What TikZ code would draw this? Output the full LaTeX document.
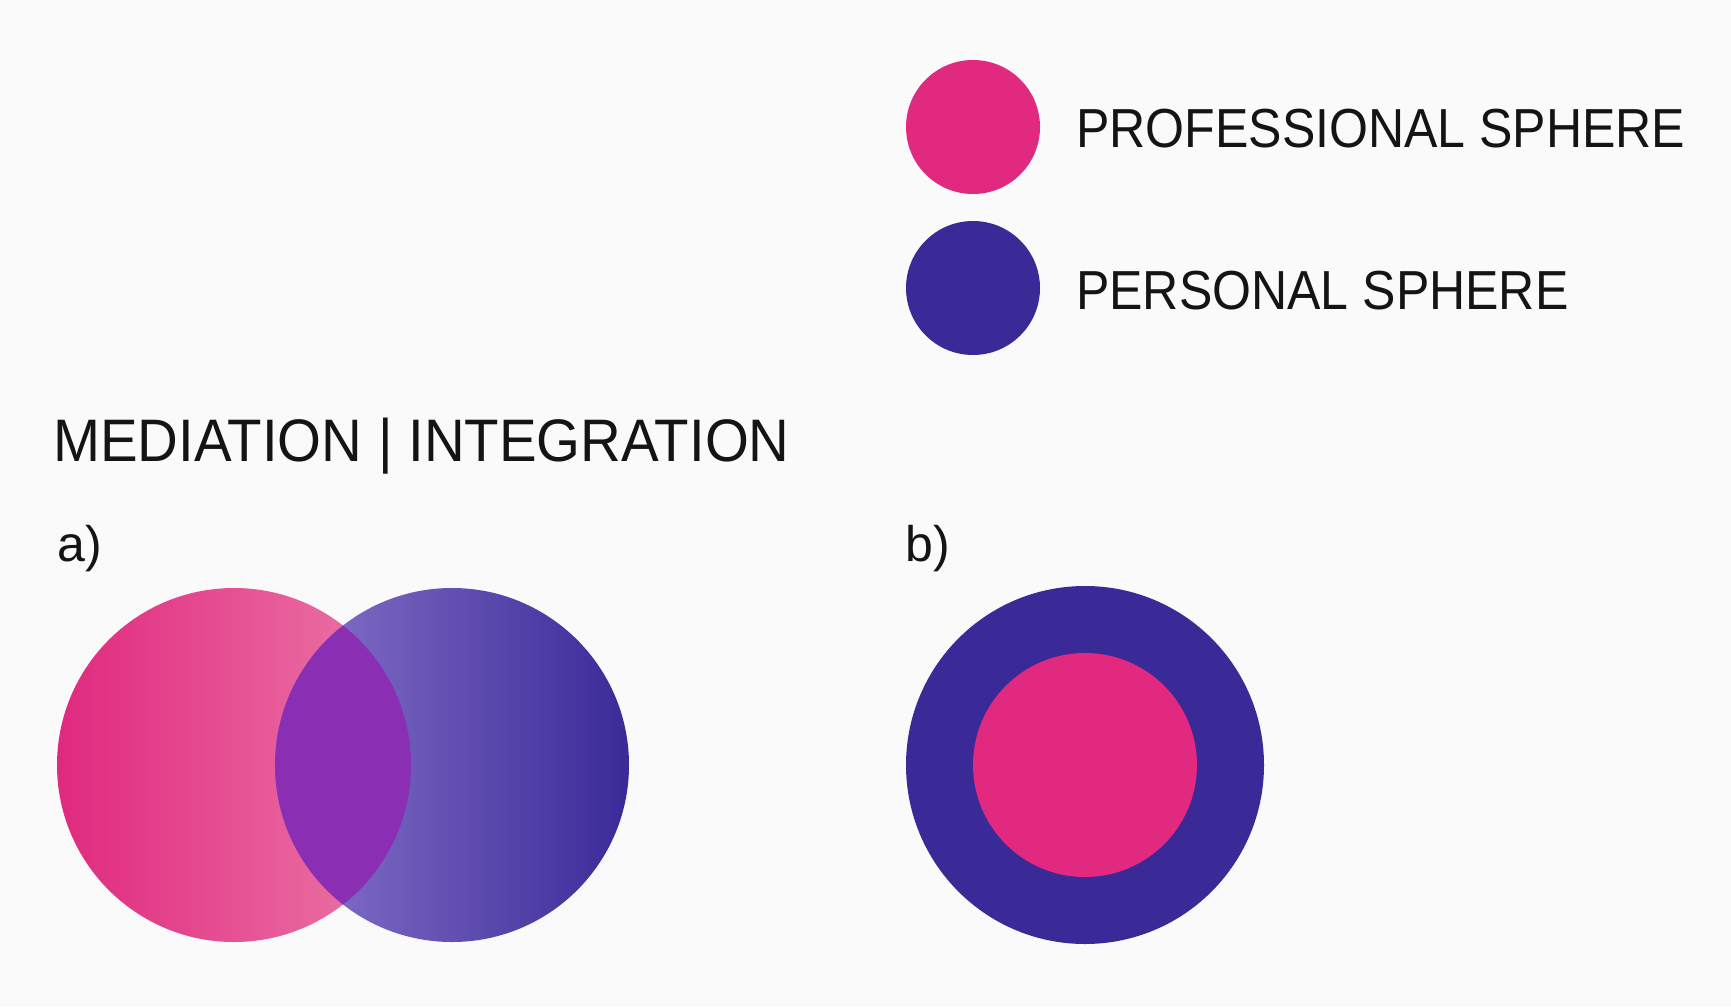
\documentclass[tikz,border=0pt]{standalone}
\usepackage{fontspec}
\setmainfont{Liberation Sans}
\newfontfamily\headfont[FakeStretch=0.94]{Liberation Sans}
\newfontfamily\legfont[FakeStretch=0.91]{Liberation Sans}
\definecolor{bgcol}{HTML}{FAFAFA}
\definecolor{pro}{HTML}{E0297F}
\definecolor{prolight}{HTML}{EC7AA8}
\definecolor{pers}{HTML}{3A2A98}
\definecolor{perslight}{HTML}{8A76CC}
\definecolor{overlap}{HTML}{8A2EB4}
\definecolor{ink}{HTML}{141414}
\tikzset{
  label/.style={inner sep=0pt, anchor=base west, text=ink},
  sphere/.style={circle, inner sep=0pt, draw=none, minimum size=#1},
}
\begin{document}
\begin{tikzpicture}[x=1pt,y=-1pt]
  % canvas
  \fill[bgcol] (0,0) rectangle (1731,1007);
  \useasboundingbox (0,0) rectangle (1731,1007);

  % legend
  \node[sphere=134pt, fill=pro] (legpro) at (973,127) {};
  \node[sphere=134pt, fill=pers] (legpers) at (973,288) {};
  \node[label, font=\legfont\fontsize{55}{60}\selectfont] (txtpro) at (1076,147) {PROFESSIONAL SPHERE};
  \node[label, font=\legfont\fontsize{55}{60}\selectfont] (txtpers) at (1076,309) {PERSONAL SPHERE};

  % heading and panel labels
  \node[label, font=\headfont\fontsize{60}{66}\selectfont] (title) at (53,461) {MEDIATION | INTEGRATION};
  \node[label, font=\fontsize{50}{56}\selectfont] (pa) at (57,561) {a)};
  \node[label, font=\fontsize{50}{56}\selectfont] (pb) at (905,561) {b)};

  % panel a: overlapping spheres
  \node[sphere=354pt, left color=pro, right color=prolight] (vpro) at (234,765) {};
  \node[sphere=354pt, left color=perslight, right color=pers] (vpers) at (452,765) {};
  \begin{scope}
    \clip (234,765) circle (177);
    \fill[overlap] (452,765) circle (177);
  \end{scope}

  % panel b: nested spheres
  \node[sphere=358pt, fill=pers] (outer) at (1085,765) {};
  \node[sphere=224pt, fill=pro] (inner) at (1085,765) {};
\end{tikzpicture}
\end{document}
